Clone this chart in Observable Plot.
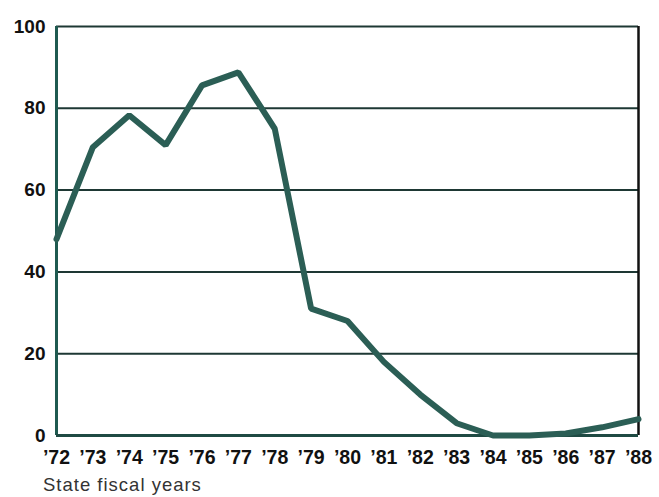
<!DOCTYPE html>
<html>
<head>
<meta charset="utf-8">
<script src="https://cdn.jsdelivr.net/npm/d3@7"></script>
<script src="https://cdn.jsdelivr.net/npm/@observablehq/plot@0.6"></script>
<style>
  body { margin: 0; background: #fff; }
  #chart { width: 659px; }
  .caption { font-family: "Liberation Sans", Arial, sans-serif; font-size: 18.5px; letter-spacing: 1px; line-height: 20px; color: #333; margin: 5px 0 0 43px; }
</style>
</head>
<body>
<div id="chart"></div>
<script>
const years = [1972,1973,1974,1975,1976,1977,1978,1979,1980,1981,1982,1983,1984,1985,1986,1987,1988];
const values = [48,70.5,78.3,71,85.6,88.8,75,31,28,18,10,3,0,0,0.5,2,4];
const yTicks = [0,20,40,60,80,100];
const gridTicks = [20,40,60,80,100];
const xLabel = "State fiscal years";

const data = years.map((y, i) => ({year: y, value: values[i]}));
const fmtYear = d => "\u2019" + String(d).slice(2);

const plot = Plot.plot({
  width: 659,
  height: 470,
  marginLeft: 56,
  marginRight: 21,
  marginTop: 26,
  marginBottom: 35,
  style: {fontFamily: "Liberation Sans, Arial, sans-serif", background: "#fff"},
  x: {domain: [1972, 1988]},
  y: {domain: [0, 100]},
  marks: [
    Plot.ruleY(gridTicks, {stroke: "#1e3834", strokeWidth: 2}),
    Plot.ruleX([1988], {stroke: "#111", strokeWidth: 2.5}),
    Plot.ruleX([1972], {stroke: "#1f5a50", strokeWidth: 3}),
    Plot.ruleY([0], {stroke: "#1f4a43", strokeWidth: 3}),
    Plot.axisY({ticks: yTicks, tickSize: 0, tickPadding: 11, fontSize: 19, fontWeight: "bold", fill: "#111", label: null}),
    Plot.axisX({ticks: years, tickSize: 0, tickPadding: 15, tickFormat: fmtYear, fontSize: 19.5, fontWeight: "bold", fill: "#111", label: null}),
    Plot.line(data, {x: "year", y: "value", stroke: "#2b5e55", strokeWidth: 6, strokeLinejoin: "miter"})
  ]
});
document.getElementById("chart").appendChild(plot);
const cap = document.createElement("div");
cap.className = "caption";
cap.textContent = xLabel;
document.getElementById("chart").appendChild(cap);
</script>
</body>
</html>
